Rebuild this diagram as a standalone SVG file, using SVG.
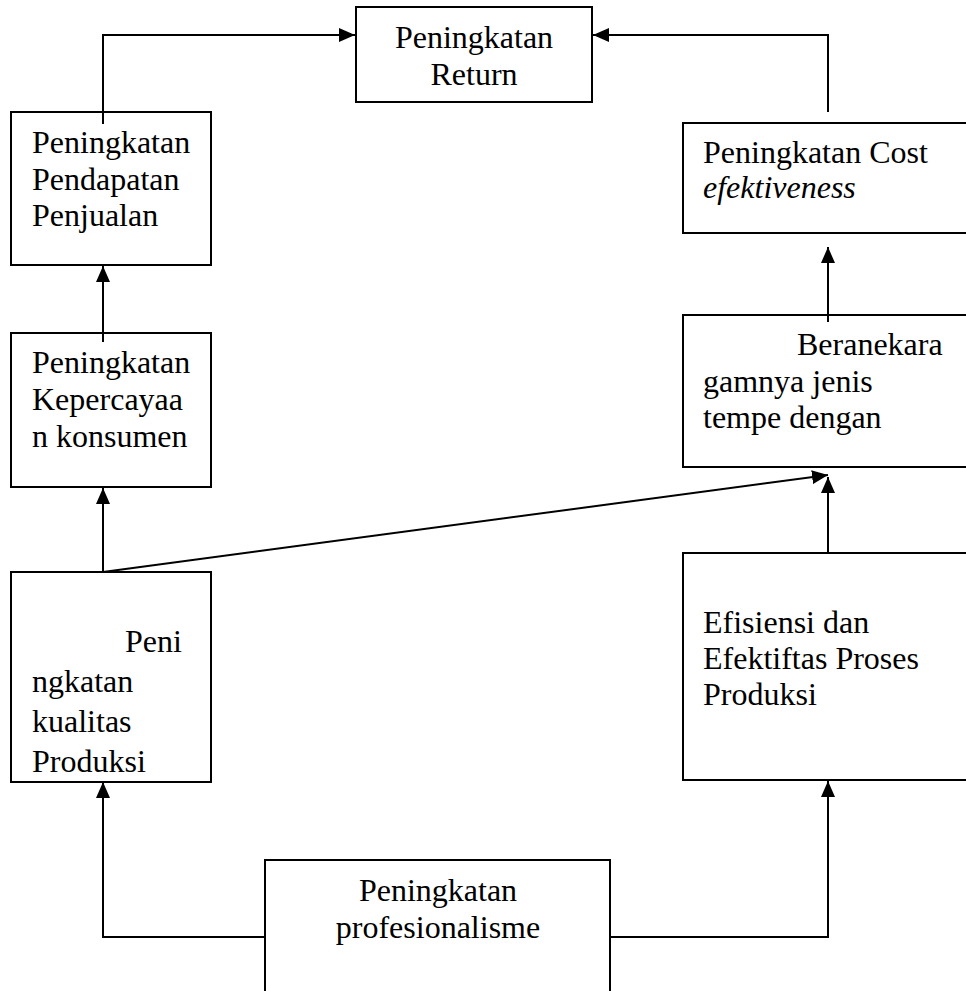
<svg xmlns="http://www.w3.org/2000/svg" width="966" height="991" viewBox="0 0 966 991">
<style>
.box{fill:#fff;stroke:#000;stroke-width:2}
.t{font-family:"Liberation Serif","Times New Roman",serif;font-size:32px;fill:#000}
.c{text-anchor:middle}
.i{font-style:italic}
.ln{fill:none;stroke:#000;stroke-width:2}
</style>
<defs>
<marker id="ah" markerUnits="userSpaceOnUse" markerWidth="16" markerHeight="14" refX="16" refY="7" orient="auto">
<path d="M0,0 L16,7 L0,14 Z" fill="#000"/>
</marker>
</defs>
<rect width="966" height="991" fill="#fff"/>
<g id="connectors">
<polyline class="ln" points="103,112 103,35 355,35" marker-end="url(#ah)"/>
<polyline class="ln" points="828,112 828,35 593,35" marker-end="url(#ah)"/>
<line class="ln" x1="103" y1="342" x2="103" y2="266" marker-end="url(#ah)"/>
<line class="ln" x1="103" y1="572" x2="103" y2="488" marker-end="url(#ah)"/>
<line class="ln" x1="103" y1="572" x2="828" y2="475" marker-end="url(#ah)"/>
<line class="ln" x1="828" y1="553" x2="828" y2="477" marker-end="url(#ah)"/>
<line class="ln" x1="828" y1="322" x2="828" y2="247" marker-end="url(#ah)"/>
<polyline class="ln" points="265,937 103,937 103,782" marker-end="url(#ah)"/>
<polyline class="ln" points="610,937 828,937 828,781" marker-end="url(#ah)"/>
</g>
<g id="return">
<rect class="box" x="356" y="7" width="236" height="95"/>
<text class="t c" x="474" y="48">Peningkatan</text>
<text class="t c" x="474" y="85">Return</text>
</g>
<g id="pendapatan">
<rect class="box" x="11" y="112" width="200" height="153"/>
<text class="t" x="32" y="153">Peningkatan</text>
<text class="t" x="32" y="190">Pendapatan</text>
<text class="t" x="32" y="226">Penjualan</text>
</g>
<line class="ln" x1="103" y1="112" x2="103" y2="124"/>
<g id="kepercayaan">
<rect class="box" x="11" y="333" width="200" height="154"/>
<text class="t" x="32" y="373">Peningkatan</text>
<text class="t" x="32" y="410">Kepercayaa</text>
<text class="t" x="32" y="447">n konsumen</text>
</g>
<line class="ln" x1="103" y1="333" x2="103" y2="342"/>
<g id="kualitas">
<rect class="box" x="11" y="572" width="200" height="210"/>
<text class="t" x="125" y="652">Peni</text>
<text class="t" x="32" y="692">ngkatan</text>
<text class="t" x="32" y="732">kualitas</text>
<text class="t" x="32" y="772">Produksi</text>
</g>
<g id="cost">
<rect class="box" x="683" y="123" width="320" height="110"/>
<text class="t" x="703" y="163">Peningkatan Cost</text>
<text class="t i" x="703" y="198">efektiveness</text>
</g>
<g id="beranekaragam">
<rect class="box" x="683" y="315" width="320" height="152"/>
<text class="t" x="797" y="355">Beranekara</text>
<text class="t" x="703" y="392">gamnya jenis</text>
<text class="t" x="703" y="428">tempe dengan</text>
</g>
<line class="ln" x1="828" y1="315" x2="828" y2="322"/>
<g id="efisiensi">
<rect class="box" x="683" y="553" width="320" height="227"/>
<text class="t" x="703" y="633">Efisiensi dan</text>
<text class="t" x="703" y="669">Efektiftas Proses</text>
<text class="t" x="703" y="705">Produksi</text>
</g>
<g id="profesionalisme">
<rect class="box" x="265" y="860" width="345" height="160"/>
<text class="t c" x="438" y="901">Peningkatan</text>
<text class="t c" x="438" y="938">profesionalisme</text>
</g>
</svg>
